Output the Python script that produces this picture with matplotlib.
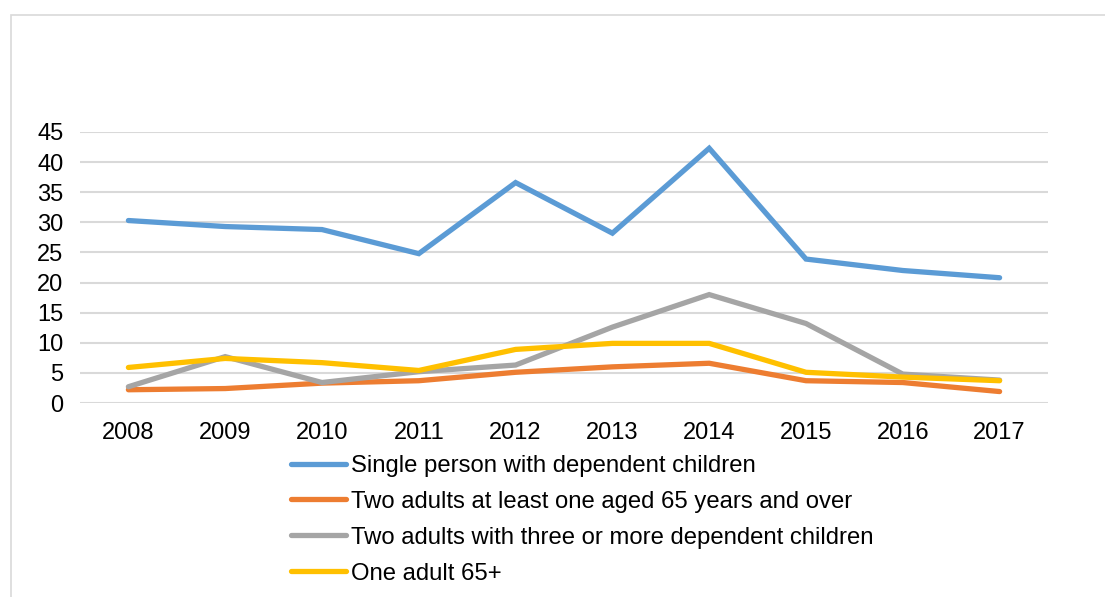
import matplotlib
matplotlib.use('Agg')
import matplotlib.pyplot as plt
from matplotlib.patches import Rectangle

plt.rcParams['font.family'] = ['Liberation Sans', 'DejaVu Sans']

years = ['2008', '2009', '2010', '2011', '2012', '2013', '2014', '2015', '2016', '2017']

single_parent = [30.3, 29.3, 28.8, 24.8, 36.6, 28.2, 42.3, 23.9, 22.0, 20.8]
two_adults_65 = [2.2, 2.4, 3.3, 3.7, 5.1, 6.0, 6.6, 3.7, 3.4, 1.9]
two_adults_3kids = [2.7, 7.7, 3.4, 5.2, 6.3, 12.6, 18.0, 13.2, 4.8, 3.8]
one_adult_65 = [5.9, 7.4, 6.7, 5.4, 8.9, 9.9, 9.9, 5.1, 4.3, 3.7]

series_names = ['Single person with dependent children',
                'Two adults at least one aged 65 years and over',
                'Two adults with three or more dependent children',
                'One adult 65+']
colors = ['#5B9BD5', '#ED7D31', '#A5A5A5', '#FFC000']
yticks = [0, 5, 10, 15, 20, 25, 30, 35, 40, 45]

fig = plt.figure(figsize=(11.05, 5.97), dpi=100)
ax = fig.add_axes([80 / 1105, 1 - 403 / 597, (1048 - 80) / 1105, (403 - 132) / 597])

# chart frame (like the Excel chart area border)
fig.patches.append(Rectangle((11 / 1105, -0.1), 1.2, 1 - 15 / 597 + 0.1,
                             transform=fig.transFigure, fill=False,
                             edgecolor='#D9D9D9', linewidth=1.2))

x = range(len(years))
for vals, name, c in zip([single_parent, two_adults_65, two_adults_3kids, one_adult_65],
                         series_names, colors):
    ax.plot(x, vals, color=c, linewidth=3.8, label=name,
            solid_capstyle='round', solid_joinstyle='miter')

ax.set_xlim(-0.5, len(years) - 0.5)
ax.set_ylim(0, 45)
ax.set_yticks(yticks)
ax.set_xticks(list(x))
ax.set_xticklabels(years)
ax.yaxis.grid(True, color='#D9D9D9', linewidth=1.5)
ax.set_axisbelow(True)
for s in ax.spines.values():
    s.set_visible(False)
ax.tick_params(axis='both', length=0, labelsize=17, colors='black')
ax.tick_params(axis='y', pad=12)
ax.tick_params(axis='x', pad=14)

fig.legend(loc='upper left', bbox_to_anchor=(291 / 1105, 1 - 455 / 597),
           frameon=False, fontsize=17.2, handlelength=2.3, handletextpad=0.2,
           labelspacing=0.58, borderaxespad=0, borderpad=0)

fig.savefig('out.png', dpi=100)
